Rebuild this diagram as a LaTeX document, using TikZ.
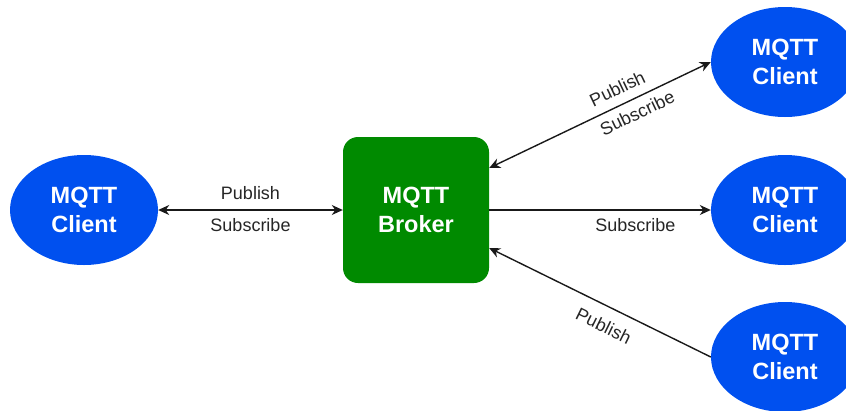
\documentclass[tikz,border=0pt]{standalone}
\usepackage{fontspec}
\setmainfont{Liberation Sans}
\usetikzlibrary{shapes.geometric,arrows.meta}
\definecolor{clientblue}{HTML}{0050EF}
\definecolor{brokergreen}{HTML}{008A00}

\begin{document}
\begin{tikzpicture}[
    x=1pt, y=-1pt,
    client/.style={
        ellipse,
        fill=clientblue,
        minimum width=148pt,
        minimum height=110pt,
        inner sep=0pt,
        text=white,
        align=center,
        font=\fontsize{23.5}{29}\selectfont\bfseries
    },
    broker/.style={
        rectangle,
        rounded corners=15pt,
        fill=brokergreen,
        minimum width=146pt,
        minimum height=146pt,
        inner sep=0pt,
        text=white,
        align=center,
        font=\fontsize{23.5}{29}\selectfont\bfseries
    },
    link/.style={
        line width=1.4pt,
        black!90,
        >={Stealth[length=11pt,width=10pt,inset=3.5pt]}
    },
    msg/.style={
        font=\fontsize{18}{20}\selectfont,
        inner sep=0pt,
        text=black!85
    }
]

\clip (0,0) rectangle (846,410);

% Broker
\node[broker] (B) at (416,210) {MQTT\\Broker};

% Clients
\node[client] (CL) at (84,210) {MQTT\\Client};
\node[client] (CR1) at (785,62) {MQTT\\Client};
\node[client] (CR2) at (785,210) {MQTT\\Client};
\node[client] (CR3) at (785,357) {MQTT\\Client};

% Left client <-> broker
\draw[link, <->] (CL) -- (B)
    node[msg, midway, above=10pt] {Publish}
    node[msg, midway, below=8pt] {Subscribe};

% Broker <-> upper client
\draw[link, <->] ([yshift=42pt]B.east) -- (CR1.west)
    node[msg, pos=0.61, sloped, above=9pt] {Publish}
    node[msg, pos=0.64, sloped, below=7pt] {Subscribe};

% Broker -> middle client
\draw[link, ->] (B) -- (CR2)
    node[msg, pos=0.66, below=8pt] {Subscribe};

% Lower client -> broker
\draw[link, ->] (CR3.west) -- ([yshift=-38pt]B.east)
    node[msg, pos=0.445, sloped, below=12pt] {Publish};

\end{tikzpicture}
\end{document}
